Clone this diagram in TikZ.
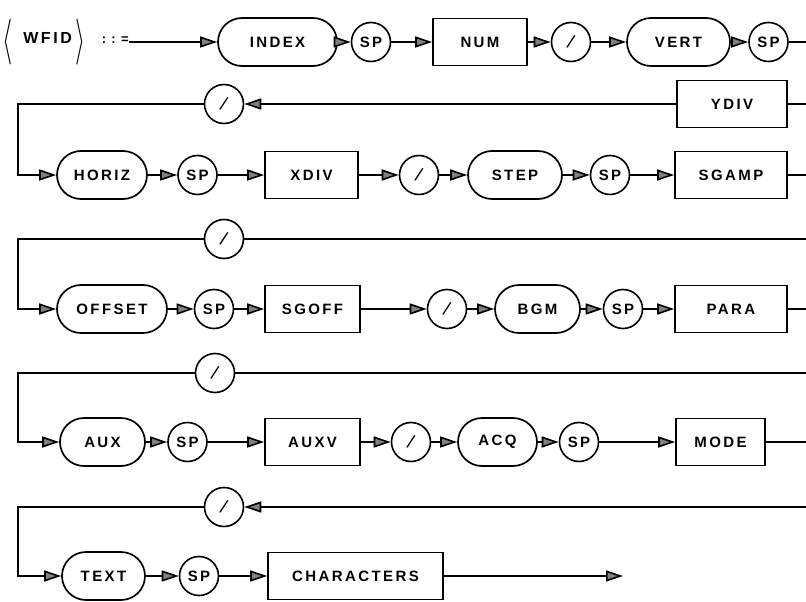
\documentclass[tikz,border=0pt]{standalone}
\usepackage{fontspec}
\usepackage{graphicx}
\usetikzlibrary{arrows.meta}
\newfontfamily\lbl[LetterSpace=16]{Liberation Sans Bold}
\newfontfamily\lblw[LetterSpace=40]{Liberation Sans Bold}
\newfontfamily\slfont{Liberation Sans}
\newcommand{\lblfont}{\fontsize{15}{18}\selectfont\lbl}
\newcommand{\bigbr}[1]{\raisebox{-0.3\height}{\scalebox{2.6}[4.6]{$#1$}}}
\newcommand{\slsym}{{\fontsize{19}{19}\selectfont\slfont\rotatebox[origin=c]{-18}{/}}}
\begin{document}
\begin{tikzpicture}[x=1pt,y=-1pt,
  ov/.style={draw, line width=1.7pt, rounded corners=24pt, minimum height=48pt, inner sep=0pt, font=\lblfont},
  bx/.style={draw, line width=1.7pt, minimum height=47pt, inner sep=0pt, font=\lblfont},
  ci/.style={draw, circle, line width=1.6pt, minimum size=39pt, inner sep=0pt, font=\lblfont},
  ln/.style={line width=1.6pt},
  ar/.style={ln, -{Triangle[length=17pt,width=11pt,fill=black!50]}}]
\path[use as bounding box] (0,0) rectangle (806,602);
\clip (0,0) rectangle (806,602);
% row 1
\node[anchor=west, inner sep=0pt] (wfid) at (2,42) {\bigbr{\langle}\hspace{11pt}{\fontsize{16}{18}\selectfont\lbl WFID}\hspace{4pt}\bigbr{\rangle}\hspace{16pt}{\fontsize{13}{14}\selectfont\lblw ::=}};
\node[ov, minimum width=119pt] (index) at (277.5,42) {INDEX};
\node[ci] (sp1) at (371,42) {SP};
\node[bx, minimum width=94pt] (num) at (480,42) {NUM};
\node[ci] (sl1) at (571,42) {\slsym};
\node[ov, minimum width=103pt] (vert) at (678.5,42) {VERT};
\node[ci] (sp2) at (768.5,42) {SP};
% row 2
\node[ci] (sl2) at (224,104) {\slsym};
\node[bx, minimum width=110pt] (ydiv) at (732,104) {YDIV};
% row 3
\node[ov, minimum width=90pt] (horiz) at (102,175) {HORIZ};
\node[ci] (sp3) at (197.5,175) {SP};
\node[bx, minimum width=93pt] (xdiv) at (311.5,175) {XDIV};
\node[ci] (sl3) at (419,175) {\slsym};
\node[ov, minimum width=94pt] (step) at (515,175) {STEP};
\node[ci] (sp3b) at (610,175) {SP};
\node[bx, minimum width=112pt] (sgamp) at (731,175) {SGAMP};
% row 4
\node[ci] (sl4) at (224,239) {\slsym};
% row 5
\node[ov, minimum width=110pt] (offset) at (112,309) {OFFSET};
\node[ci] (sp5) at (214,309) {SP};
\node[bx, minimum width=95pt] (sgoff) at (312.5,309) {SGOFF};
\node[ci] (sl5) at (447,309) {\slsym};
\node[ov, minimum width=85pt] (bgm) at (537.5,309) {BGM};
\node[ci] (sp5b) at (623,309) {SP};
\node[bx, minimum width=112pt] (para) at (731,309) {PARA};
% row 6
\node[ci] (sl6) at (215,373) {\slsym};
% row 7
\node[ov, minimum width=85pt] (aux) at (102.5,442) {AUX};
\node[ci] (sp7) at (187.5,442) {SP};
\node[bx, minimum width=95pt] (auxv) at (312.5,442) {AUXV};
\node[ci] (sl7) at (411,442) {\slsym};
\node[ov, minimum width=79pt] (acq) at (497.5,442) {ACQ};
\node[ci] (sp7b) at (579,442) {SP};
\node[bx, minimum width=89pt] (mode) at (720.5,442) {MODE};
% row 8
\node[ci] (sl8) at (224,507) {\slsym};
% row 9
\node[ov, minimum width=83pt] (text) at (103.5,576) {TEXT};
\node[ci] (sp9) at (199,576) {SP};
\node[bx, minimum width=175pt] (chars) at (355.5,576) {CHARACTERS};
\coordinate (fin) at (623,576);
% corner coordinates
\coordinate (r1) at (840,42);
\coordinate (r3) at (840,175);
\coordinate (r5) at (840,309);
\coordinate (r7) at (840,442);
\coordinate (l3) at (18,175);
\coordinate (l5) at (18,309);
\coordinate (l7) at (18,442);
\coordinate (l9) at (18,576);
% connectors row 1
\draw[ar] (wfid) -- (index);
\draw[ar] (index) -- (sp1);
\draw[ar] (sp1) -- (num);
\draw[ar] (num) -- (sl1);
\draw[ar] (sl1) -- (vert);
\draw[ar] (vert) -- (sp2);
\draw[ln] (sp2) -- (r1) |- (ydiv.east);
\draw[ar] (ydiv) -- (sl2);
\draw[ar] (sl2.west) -| (l3) -- (horiz.west);
% row 3
\draw[ar] (horiz) -- (sp3);
\draw[ar] (sp3) -- (xdiv);
\draw[ar] (xdiv) -- (sl3);
\draw[ar] (sl3) -- (step);
\draw[ar] (step) -- (sp3b);
\draw[ar] (sp3b) -- (sgamp);
\draw[ln] (sgamp) -- (r3) |- (sl4.east);
\draw[ar] (sl4.west) -| (l5) -- (offset.west);
% row 5
\draw[ar] (offset) -- (sp5);
\draw[ar] (sp5) -- (sgoff);
\draw[ar] (sgoff) -- (sl5);
\draw[ar] (sl5) -- (bgm);
\draw[ar] (bgm) -- (sp5b);
\draw[ar] (sp5b) -- (para);
\draw[ln] (para) -- (r5) |- (sl6.east);
\draw[ar] (sl6.west) -| (l7) -- (aux.west);
% row 7
\draw[ar] (aux) -- (sp7);
\draw[ar] (sp7) -- (auxv);
\draw[ar] (auxv) -- (sl7);
\draw[ar] (sl7) -- (acq);
\draw[ar] (acq) -- (sp7b);
\draw[ar] (sp7b) -- (mode);
\draw[ar] (mode) -- (r7) |- (sl8.east);
\draw[ar] (sl8.west) -| (l9) -- (text.west);
% row 9
\draw[ar] (text) -- (sp9);
\draw[ar] (sp9) -- (chars);
\draw[ar] (chars) -- (fin);
\end{tikzpicture}
\end{document}
